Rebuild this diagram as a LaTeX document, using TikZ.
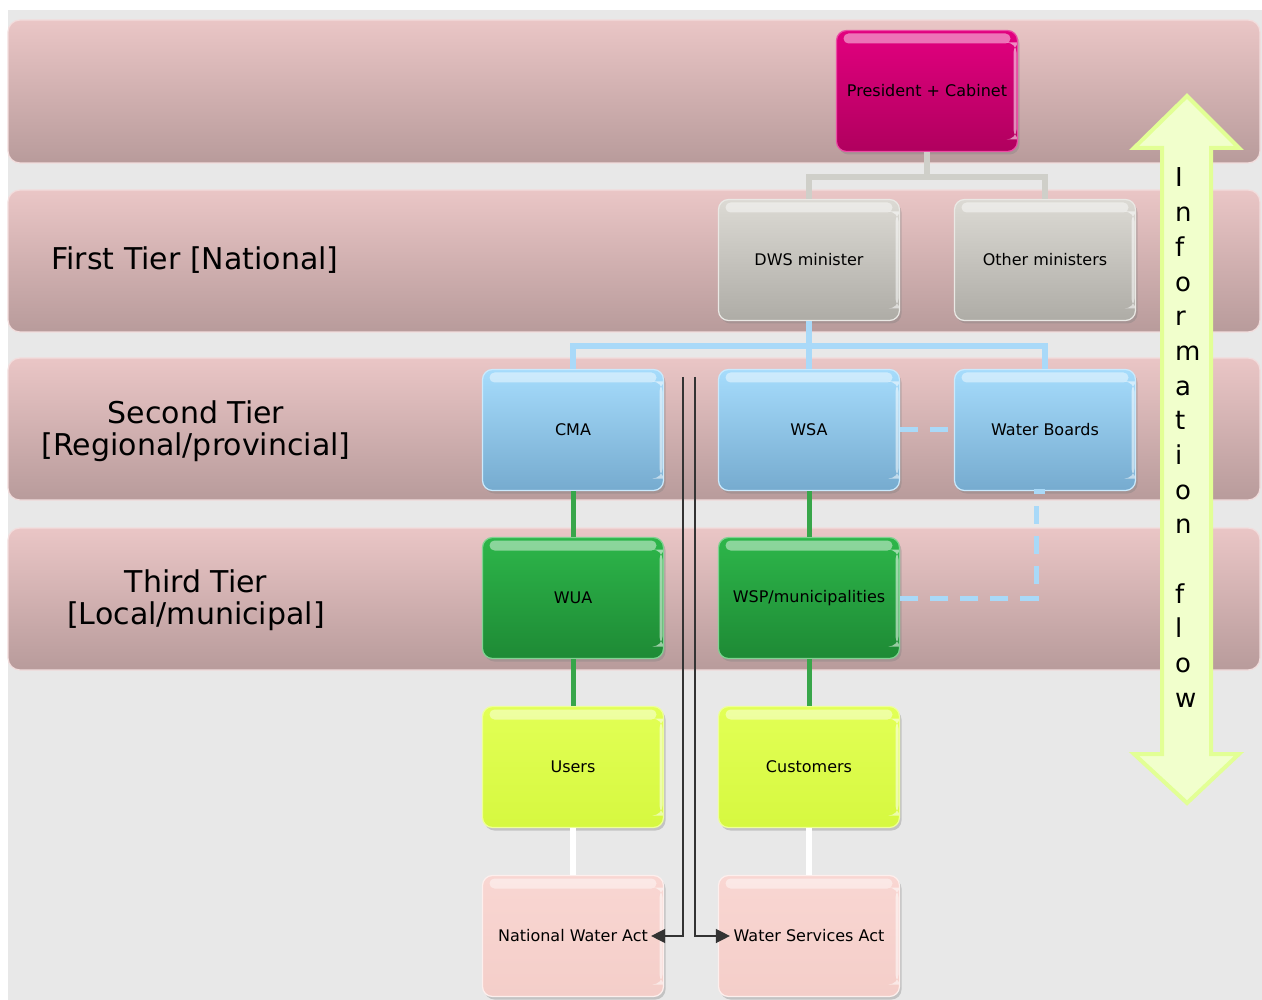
\documentclass[tikz,border=0pt]{standalone}
\usepackage{fontspec}
\setmainfont{DejaVu Sans}
\usetikzlibrary{calc,shadows,arrows.meta}

\definecolor{bgGrey}{HTML}{E8E8E8}
\definecolor{bandTop}{HTML}{EAC6C6}
\definecolor{bandBot}{HTML}{B89B9B}
\definecolor{presTop}{HTML}{E2007F}
\definecolor{presBot}{HTML}{B0005E}
\definecolor{greyTop}{HTML}{DCDAD4}
\definecolor{greyBot}{HTML}{AEACA6}
\definecolor{blueTop}{HTML}{A6DCFC}
\definecolor{blueBot}{HTML}{76ABCF}
\definecolor{greenTop}{HTML}{2DB64A}
\definecolor{greenBot}{HTML}{1E8A35}
\definecolor{yellowTop}{HTML}{E2FF55}
\definecolor{yellowBot}{HTML}{D6F840}
\definecolor{actTop}{HTML}{F9D6D2}
\definecolor{actBot}{HTML}{F4CEC9}
\definecolor{greyLine}{HTML}{CFCFC9}
\definecolor{blueLine}{HTML}{A9D9F8}
\definecolor{greenLine}{HTML}{38A64A}
\definecolor{lawGrey}{HTML}{333333}
\definecolor{arrowFill}{HTML}{F1FFCC}
\definecolor{arrowEdge}{HTML}{E2FF95}

\tikzset{
	band/.style={rounded corners=12pt, top color=bandTop, bottom color=bandBot,
		draw=bandTop!60!white, line width=1.2pt},
	tierlabel/.style={align=center, font=\fontsize{30}{32}\selectfont},
	unit/.style={rounded corners=10pt, minimum width=181pt, minimum height=121pt,
		inner sep=2pt, font=\fontsize{16}{19}\selectfont, line width=1.2pt,
		drop shadow={shadow xshift=2pt, shadow yshift=-3pt, opacity=0.35},
		path picture={
			\fill[white, opacity=0.45, rounded corners=5pt]
				($(path picture bounding box.north west)+(7pt,-3pt)$) rectangle
				($(path picture bounding box.north east)+(-7pt,-13pt)$);
			\fill[white, opacity=0.55]
				($(path picture bounding box.north east)+(-4pt,-12pt)$) rectangle
				($(path picture bounding box.south east)+(-1pt,12pt)$);
		}},
	presbox/.style={unit, top color=presTop, bottom color=presBot, draw=presTop!70!white},
	greybox/.style={unit, top color=greyTop, bottom color=greyBot, draw=greyTop!60!white},
	bluebox/.style={unit, top color=blueTop, bottom color=blueBot, draw=blueTop!60!white},
	greenbox/.style={unit, top color=greenTop, bottom color=greenBot, draw=greenTop!60!white},
	yellowbox/.style={unit, top color=yellowTop, bottom color=yellowBot, draw=yellowTop!60!white},
	actbox/.style={unit, top color=actTop, bottom color=actBot, draw=actTop!40!white},
	greyline/.style={draw=greyLine, line width=6pt},
	blueline/.style={draw=blueLine, line width=6pt},
	bluedash/.style={draw=blueLine, line width=5pt, dash pattern=on 18pt off 12pt},
	greenline/.style={draw=greenLine, line width=5pt},
	whiteline/.style={draw=white, line width=6pt},
	lawline/.style={draw=lawGrey, line width=1.4pt, -{Triangle[length=14pt,width=14pt]}},
	infoletter/.style={anchor=base west, inner sep=0pt, font=\fontsize{26}{30}\selectfont}
}

\begin{document}
\begin{tikzpicture}[x=1pt, y=-1pt]

	% page and background
	\useasboundingbox (0,0) rectangle (1262,1000);
	\fill[bgGrey] (8,10) rectangle (1262,1000);

	% tier bands
	\foreach \top/\bot in {20/163, 190/332, 358/500, 528/670}
		\draw[band] (8,\top) rectangle (1260,\bot);

	% tier labels
	\node[tierlabel] (tier1) at (195,260) {First Tier [National]};
	\node[tierlabel] (tier2) at (196,431) {Second Tier\\{[Regional/provincial]}};
	\node[tierlabel] (tier3) at (196,600) {Third Tier\\{[Local/municipal]}};

	% information flow arrow
	\draw[fill=arrowFill, draw=arrowEdge, line width=4pt, line join=miter]
		(1187,96) -- (1239,148) -- (1211,148) -- (1211,754) -- (1239,754)
		-- (1187,803) -- (1134,754) -- (1162,754) -- (1162,148) -- (1134,148) -- cycle;
	\foreach \ch/\i in {I/0,n/1,f/2,o/3,r/4,m/5,a/6,t/7,i/8,o/9,n/10,f/12,l/13,o/14,w/15}
		\node[infoletter] (info\i) at (1175, 187+34.67*\i) {\ch};

	% organisation boxes
	\node[presbox] (pres) at (927,91) {President + Cabinet};
	\node[greybox] (dws) at (809,260) {DWS minister};
	\node[greybox] (other) at (1045,260) {Other ministers};
	\node[bluebox] (cma) at (573,430) {CMA};
	\node[bluebox] (wsa) at (809,430) {WSA};
	\node[bluebox] (wb) at (1045,430) {Water Boards};
	\node[greenbox] (wua) at (573,598) {WUA};
	\node[greenbox] (wsp) at (809,598) {WSP/municipalities};
	\node[yellowbox] (users) at (573,767) {Users};
	\node[yellowbox] (cust) at (809,767) {Customers};
	\node[actbox] (nwa) at (573,936) {National Water Act};
	\node[actbox] (wsact) at (809,936) {Water Services Act};

	% hierarchy lines
	\draw[greyline] (pres.south) -- ++(0,25) -| (dws.north);
	\draw[greyline] (pres.south) -- ++(0,25) -| (other.north);
	\draw[blueline] (dws.south) -- ++(0,25) -| (cma.north);
	\draw[blueline] (dws.south) -- (wsa.north);
	\draw[blueline] (dws.south) -- ++(0,25) -| (wb.north);
	\draw[greenline] (cma) -- (wua);
	\draw[greenline] (wua) -- (users);
	\draw[greenline] (wsa) -- (wsp);
	\draw[greenline] (wsp) -- (cust);
	\draw[whiteline] (users) -- (nwa);
	\draw[whiteline] (cust) -- (wsact);

	% dashed links to the water boards
	\draw[bluedash] (wsa.east) -- (wb.west);
	\draw[bluedash] (wsp.east) -| ($(wb.south)+(-9,0)$) -- (wb.south);

	% legislation lines
	\coordinate (lawA) at (683,377);
	\coordinate (lawB) at (695,377);
	\draw[lawline] (lawA) |- ($(nwa.east)+(-13,0)$);
	\draw[lawline] (lawB) |- ($(wsact.west)+(12,0)$);

\end{tikzpicture}
\end{document}
